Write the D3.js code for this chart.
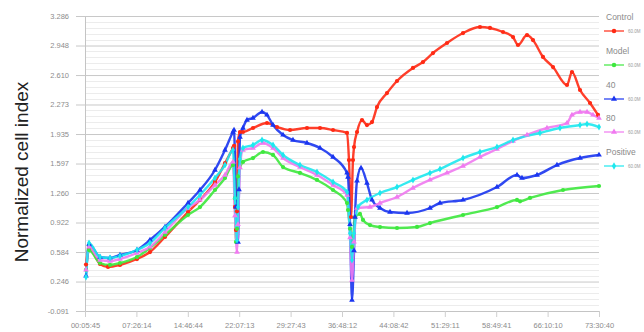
<!DOCTYPE html>
<html>
<head>
<meta charset="utf-8">
<script src="https://cdn.jsdelivr.net/npm/d3@7"></script>
<style>
html,body{margin:0;padding:0;background:#fff;}
svg{display:block;font-family:"Liberation Sans",Arial,sans-serif;}
</style>
</head>
<body>
<svg id="chart" width="644" height="332"></svg>
<script>
// ---- data (time in hours, normalized cell index) ----
const xTickLabels = ["00:05:45","07:26:14","14:46:44","22:07:13","29:27:43","36:48:12","44:08:42","51:29:11","58:49:41","66:10:10","73:30:40"];
const yTickLabels = ["-0.091","0.246","0.584","0.922","1.260","1.597","1.935","2.273","2.610","2.948","3.286"];
const seriesNames = ["Control","Model","40","80","Positive"];
const seriesColors = ["#ff2a14","#3ee83e","#1a35f0","#f07af0","#1ee8ee"];

const controlData = [[0.24,0.44],[0.67,0.63],[2.24,0.447],[3.38,0.413],[5.09,0.436],[7.52,0.504],[9.38,0.584],[11.52,0.756],[14.81,1.042],[16.52,1.18],[18.66,1.386],[20.09,1.603],[21.23,1.775],[21.38,1.80],[21.52,1.10],[21.66,0.836],[21.80,1.05],[21.95,1.85],[22.23,1.958],[22.66,1.958],[24.09,2.004],[26.09,2.061],[27.52,2.015],[29.38,1.981],[31.80,2.004],[33.66,2.004],[35.52,1.981],[37.52,1.947],[37.80,1.637],[38.09,0.985],[38.37,1.637],[38.52,1.786],[38.95,1.958],[39.66,2.095],[40.37,2.038],[41.09,2.072],[41.80,2.244],[43.23,2.404],[44.66,2.542],[46.94,2.691],[48.37,2.759],[49.80,2.862],[51.80,2.977],[54.09,3.091],[56.51,3.16],[57.94,3.149],[59.80,3.103],[61.23,3.045],[61.94,2.954],[63.23,3.068],[64.08,3.011],[65.51,2.817],[66.94,2.702],[68.94,2.496],[69.65,2.645],[70.80,2.439],[72.23,2.29],[73.37,2.153]];

const modelData = [[0.24,0.38],[0.67,0.607],[2.24,0.458],[3.67,0.436],[5.09,0.458],[7.52,0.527],[9.38,0.63],[11.52,0.779],[14.81,1.008],[16.52,1.099],[18.66,1.294],[20.09,1.431],[21.23,1.58],[21.52,1.20],[21.66,0.70],[21.81,0.85],[21.95,1.45],[22.66,1.615],[24.09,1.66],[25.52,1.729],[26.95,1.695],[28.38,1.557],[30.80,1.489],[33.23,1.409],[35.52,1.294],[37.52,1.145],[37.66,1.065],[37.95,0.85],[38.23,0.642],[38.66,0.985],[39.37,1.02],[39.80,0.951],[40.80,0.893],[42.23,0.87],[44.66,0.859],[47.52,0.871],[49.37,0.916],[54.09,1.008],[58.94,1.099],[61.80,1.18],[62.23,1.165],[63.66,1.203],[68.37,1.294],[73.51,1.34]];

const data40 = [[0.24,0.31],[0.67,0.676],[2.24,0.527],[3.67,0.516],[5.09,0.55],[7.52,0.607],[9.38,0.722],[11.52,0.871],[14.81,1.145],[16.52,1.294],[18.66,1.523],[20.09,1.752],[21.23,1.958],[21.38,1.98],[21.66,1.10],[21.95,0.699],[22.09,1.30],[22.23,1.90],[22.66,2.004],[23.23,2.095],[24.09,2.118],[25.38,2.187],[26.09,2.153],[26.95,2.038],[28.38,1.924],[29.80,1.866],[31.80,1.832],[33.66,1.775],[35.52,1.672],[37.52,1.489],[37.66,1.443],[37.95,0.90],[38.23,0.035],[38.52,0.60],[38.66,0.985],[38.95,1.40],[39.52,1.546],[40.37,1.374],[41.09,1.18],[42.23,1.088],[43.66,1.042],[46.09,1.031],[49.37,1.088],[50.80,1.145],[54.09,1.18],[58.94,1.328],[61.80,1.466],[62.51,1.431],[64.66,1.466],[67.51,1.58],[70.80,1.66],[73.51,1.695]];

const data80 = [[0.24,0.38],[0.67,0.642],[2.24,0.493],[3.67,0.481],[5.09,0.504],[7.52,0.573],[9.38,0.642],[11.52,0.813],[14.81,1.088],[16.52,1.18],[18.66,1.351],[20.09,1.466],[21.23,1.615],[21.52,1.0],[21.81,0.584],[21.95,0.9],[22.23,1.55],[22.66,1.752],[24.09,1.775],[25.52,1.832],[26.95,1.775],[28.38,1.66],[30.80,1.557],[33.23,1.466],[35.52,1.351],[37.52,1.237],[37.95,0.75],[38.23,0.264],[38.52,0.70],[38.95,1.088],[40.80,1.099],[42.23,1.145],[44.66,1.214],[46.94,1.317],[49.37,1.409],[51.80,1.489],[54.09,1.569],[56.51,1.672],[58.94,1.763],[61.23,1.855],[63.23,1.924],[66.08,2.004],[68.94,2.061],[69.65,2.153],[70.80,2.187],[71.80,2.187],[72.65,2.153],[73.51,2.118]];

const positiveData = [[0.24,0.298],[0.67,0.687],[2.24,0.527],[3.67,0.516],[5.09,0.539],[7.52,0.607],[9.38,0.687],[11.52,0.859],[14.81,1.099],[16.52,1.237],[18.66,1.431],[20.09,1.58],[21.23,1.752],[21.52,1.2],[21.81,0.72],[21.95,1.1],[22.23,1.65],[22.66,1.775],[24.09,1.809],[25.38,1.866],[26.95,1.809],[28.38,1.695],[30.80,1.58],[33.23,1.5],[35.52,1.386],[37.52,1.271],[37.95,0.8],[38.23,0.493],[38.52,0.8],[39.09,1.099],[40.37,1.18],[42.23,1.26],[44.66,1.328],[46.94,1.409],[49.37,1.489],[50.80,1.534],[54.09,1.66],[56.51,1.729],[58.94,1.786],[61.23,1.866],[65.08,1.947],[67.94,2.004],[70.80,2.038],[71.80,2.05],[73.51,2.015]];

const allSeries = [controlData, modelData, data40, data80, positiveData];
const symbolTypes = [d3.symbolCircle, d3.symbolCircle, d3.symbolTriangle, d3.symbolTriangle, d3.symbolDiamond];

// ---- layout ----
const svg = d3.select("#chart");
const L = 85, R = 599, T = 16, B = 311;
const xStart = 0.0958, xEnd = 73.511;
const x = d3.scaleLinear().domain([xStart, xEnd]).range([L, R]);
const yVals = yTickLabels.map(Number);
const y = d3.scaleLinear().domain([yVals[0], yVals[yVals.length-1]]).range([B, T]);
const xTickVals = xTickLabels.map((d,i) => xStart + i*(xEnd - xStart)/(xTickLabels.length-1));

// minor horizontal grid
const minor = [];
for (let i = 0; i < yVals.length-1; i++) {
  for (let k = 1; k < 5; k++) minor.push(yVals[i] + (yVals[i+1]-yVals[i])*k/5);
}
svg.append("g").selectAll("line").data(minor).join("line")
  .attr("x1", L).attr("x2", R)
  .attr("y1", d => Math.round(y(d))+0.5).attr("y2", d => Math.round(y(d))+0.5)
  .attr("stroke", "#ececec").attr("stroke-width", 1);

// major horizontal grid via axis
const yAxis = d3.axisLeft(y).tickValues(yVals)
  .tickFormat((d,i) => yTickLabels[i]).tickSizeInner(-(R-L)).tickSizeOuter(0).tickPadding(16);
const gy = svg.append("g").attr("transform", `translate(${L},0)`).call(yAxis);
gy.select(".domain").attr("stroke", "#c4c4c4");
gy.selectAll(".tick line").attr("stroke", "#c8c8c8").attr("x1", -9);
gy.selectAll(".tick text").attr("fill", "#8c8c8c").attr("font-size", 7.5);

// vertical grid + x axis
const xAxis = d3.axisBottom(x).tickValues(xTickVals)
  .tickFormat((d,i) => xTickLabels[i]).tickSizeInner(-(B-T)).tickSizeOuter(0).tickPadding(12);
const gx = svg.append("g").attr("transform", `translate(0,${B})`).call(xAxis);
gx.select(".domain").attr("stroke", "#c4c4c4");
gx.selectAll(".tick line").attr("stroke", "#cfcfcf").attr("y2", 6);
gx.selectAll(".tick text").attr("fill", "#8c8c8c").attr("font-size", 7.5);

// y label
svg.append("text")
  .attr("transform", "translate(28,172) rotate(-90)")
  .attr("text-anchor", "middle")
  .attr("font-size", 19).attr("fill", "#222")
  .text("Normalized cell index");

// series
const line = d3.line().x(d => x(d[0])).y(d => y(d[1])).curve(d3.curveMonotoneX);
const plot = svg.append("g");
allSeries.forEach((data, i) => {
  plot.append("path").datum(data).attr("d", line)
    .attr("fill", "none").attr("stroke", seriesColors[i]).attr("stroke-width", 2.4)
    .attr("stroke-linejoin", "round").attr("stroke-opacity", 0.9);
});
allSeries.forEach((data, i) => {
  plot.append("g").selectAll("path").data(data).join("path")
    .attr("transform", d => `translate(${x(d[0])},${y(d[1])})`)
    .attr("d", d3.symbol().type(symbolTypes[i]).size(14))
    .attr("fill", seriesColors[i]);
});

// legend
const legend = svg.append("g");
const legY = [17, 51, 85, 118, 152];
seriesNames.forEach((name, i) => {
  const g = legend.append("g").attr("transform", `translate(604,${legY[i]})`);
  g.append("text").attr("x", 2).attr("y", 3).attr("font-size", 8.5).attr("fill", "#8a8a8a").text(name);
  g.append("line").attr("x1", 0).attr("x2", 20).attr("y1", 14).attr("y2", 14)
    .attr("stroke", seriesColors[i]).attr("stroke-width", 1.2);
  g.append("path").attr("transform", "translate(10,14)")
    .attr("d", d3.symbol().type(symbolTypes[i]).size(16)).attr("fill", seriesColors[i]);
  g.append("text").attr("x", 24).attr("y", 16).attr("font-size", 4.5).attr("fill", "#9a9a9a").text("60.0M");
});
</script>
</body>
</html>
